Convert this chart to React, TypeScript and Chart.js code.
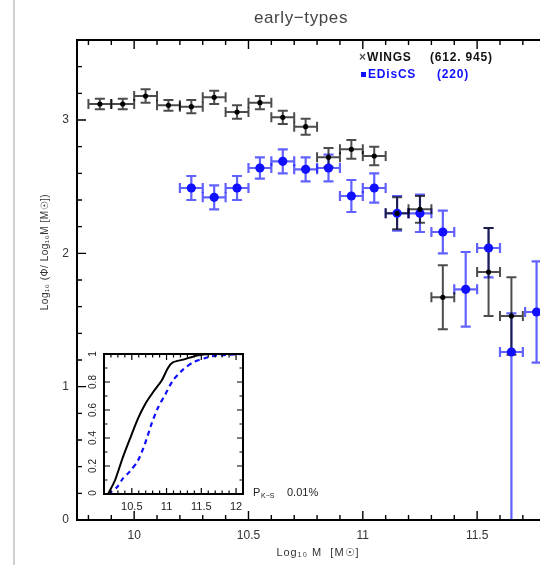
import React, { useEffect, useRef } from "react";
import { Chart, registerables } from "chart.js";

Chart.register(...registerables);

const FONT = '"Liberation Sans", Arial, Helvetica, sans-serif';

// WINGS early-type mass function (log10 phi per dex), bin centres in log10 M
const wingsMass = [9.85, 9.95, 10.05, 10.15, 10.25, 10.35, 10.45, 10.55, 10.65, 10.75, 10.85, 10.95, 11.05, 11.15, 11.25, 11.35, 11.55, 11.65];
const wingsPhi = [3.12, 3.12, 3.18, 3.11, 3.1, 3.17, 3.06, 3.13, 3.02, 2.95, 2.72, 2.78, 2.73, 2.3, 2.33, 1.67, 1.86, 1.53];
const wingsErr = [0.04, 0.04, 0.05, 0.04, 0.05, 0.05, 0.05, 0.05, 0.05, 0.06, 0.07, 0.07, 0.07, 0.12, 0.1, 0.24, 0.33, 0.29];

// EDisCS early-type mass function
const edisMass = [10.25, 10.35, 10.45, 10.55, 10.65, 10.75, 10.85, 10.95, 11.05, 11.15, 11.25, 11.35, 11.45, 11.55, 11.65, 11.76];
const edisPhi = [2.49, 2.42, 2.49, 2.64, 2.69, 2.63, 2.64, 2.43, 2.49, 2.3, 2.3, 2.16, 1.73, 2.04, 1.26, 1.56];
const edisErrLo = [0.09, 0.09, 0.09, 0.08, 0.09, 0.09, 0.1, 0.12, 0.11, 0.13, 0.14, 0.16, 0.28, 0.22, 1.5, 0.38];
const edisErrHi = [0.09, 0.09, 0.09, 0.08, 0.09, 0.09, 0.1, 0.12, 0.11, 0.13, 0.14, 0.16, 0.28, 0.15, 0.29, 0.38];

const binHalfWidth = 0.05;

const xTickValues = [10, 10.5, 11, 11.5];
const yTickValues = [0, 1, 2, 3];

// Cumulative distributions shown in the inset
const cumWingsMass = [10.16, 10.26, 10.37, 10.47, 10.59, 10.69, 10.81, 10.93, 11.02, 11.09, 11.24, 11.44, 11.63, 12.1];
const cumWingsFrac = [0, 0.1, 0.26, 0.39, 0.54, 0.64, 0.73, 0.81, 0.9, 0.94, 0.96, 0.99, 1.0, 1.0];
const cumEdisMass = [10.16, 10.29, 10.37, 10.47, 10.59, 10.69, 10.79, 10.88, 10.98, 11.09, 11.24, 11.38, 11.55, 11.73, 12.1];
const cumEdisFrac = [0, 0.05, 0.11, 0.16, 0.24, 0.36, 0.51, 0.62, 0.71, 0.81, 0.89, 0.94, 0.97, 0.99, 1.0];

const insetXTicks = [10.5, 11, 11.5, 12];
const insetYTicks = [0, 0.2, 0.4, 0.6, 0.8, 1];

const BLUE = "#1010ff";

function drawErrorBars(
  ctx: CanvasRenderingContext2D,
  chart: any,
  xs: number[],
  ys: number[],
  lo: number[],
  hi: number[],
  color: string,
  width: number
) {
  const xs_ = chart.scales.x;
  const ys_ = chart.scales.y;
  const cap = 5;
  ctx.save();
  ctx.strokeStyle = color;
  ctx.lineWidth = width;
  ctx.lineCap = "butt";
  for (let i = 0; i < xs.length; i++) {
    const px = xs_.getPixelForValue(xs[i]);
    const py = ys_.getPixelForValue(ys[i]);
    const pTop = ys_.getPixelForValue(ys[i] + hi[i]);
    const pBot = ys_.getPixelForValue(ys[i] - lo[i]);
    const pL = xs_.getPixelForValue(xs[i] - binHalfWidth);
    const pR = xs_.getPixelForValue(xs[i] + binHalfWidth);
    ctx.beginPath();
    ctx.moveTo(px, pTop);
    ctx.lineTo(px, pBot);
    ctx.moveTo(px - cap, pTop);
    ctx.lineTo(px + cap, pTop);
    ctx.moveTo(px - cap, pBot);
    ctx.lineTo(px + cap, pBot);
    ctx.moveTo(pL, py);
    ctx.lineTo(pR, py);
    ctx.moveTo(pL, py - cap);
    ctx.lineTo(pL, py + cap);
    ctx.moveTo(pR, py - cap);
    ctx.lineTo(pR, py + cap);
    ctx.stroke();
  }
  ctx.restore();
}

// Inward tick marks along one edge of a chart area
function drawTickRow(
  ctx: CanvasRenderingContext2D,
  scale: any,
  start: number,
  end: number,
  step: number,
  majorEvery: number,
  majorLen: number,
  minorLen: number,
  edge: number,
  dir: number,
  horizontal: boolean
) {
  const n = Math.round((end - start) / step);
  ctx.beginPath();
  for (let k = 0; k <= n; k++) {
    const v = start + k * step;
    const isMajor = Math.abs(v / majorEvery - Math.round(v / majorEvery)) < 1e-6;
    const len = isMajor ? majorLen : minorLen;
    const p = scale.getPixelForValue(v);
    if (horizontal) {
      ctx.moveTo(p, edge);
      ctx.lineTo(p, edge + dir * len);
    } else {
      ctx.moveTo(edge, p);
      ctx.lineTo(edge + dir * len, p);
    }
  }
  ctx.stroke();
}

const noPadding = (s: any) => {
  s.paddingLeft = 0;
  s.paddingRight = 0;
  s.paddingTop = 0;
  s.paddingBottom = 0;
};

const mainDecor = {
  id: "mainDecor",
  beforeDatasetsDraw(chart: any) {
    const { ctx, chartArea } = chart;
    ctx.save();
    ctx.beginPath();
    ctx.rect(chartArea.left, chartArea.top, chartArea.right - chartArea.left + 10, chartArea.bottom - chartArea.top);
    ctx.clip();
    drawErrorBars(ctx, chart, edisMass, edisPhi, edisErrLo, edisErrHi, "rgba(30,30,255,0.7)", 2.2);
    drawErrorBars(ctx, chart, wingsMass, wingsPhi, wingsErr, wingsErr, "rgba(0,0,0,0.7)", 2);
    ctx.restore();
  },
  afterDraw(chart: any) {
    const { ctx, chartArea } = chart;
    const { left, right, top, bottom } = chartArea;
    const x = chart.scales.x;
    const y = chart.scales.y;
    ctx.save();

    // frame: left, top and bottom axes
    ctx.strokeStyle = "#000";
    ctx.lineWidth = 2;
    ctx.beginPath();
    ctx.moveTo(right + 2, top);
    ctx.lineTo(left, top);
    ctx.lineTo(left, bottom);
    ctx.lineTo(right + 2, bottom);
    ctx.stroke();

    ctx.lineWidth = 1.4;
    drawTickRow(ctx, x, 9.8, 11.7, 0.1, 0.5, 9, 5, bottom, -1, true);
    drawTickRow(ctx, x, 9.8, 11.7, 0.1, 0.5, 9, 5, top, 1, true);
    drawTickRow(ctx, y, 0, 3.6, 0.2, 1, 9, 5, left, 1, false);

    // title
    ctx.fillStyle = "#444";
    ctx.font = `17px ${FONT}`;
    ctx.textAlign = "center";
    ctx.textBaseline = "middle";
    (ctx as any).letterSpacing = "0.6px";
    ctx.fillText("early\u2212types", 301, 18);

    // legend
    ctx.textAlign = "left";
    ctx.font = `bold 12px ${FONT}`;
    (ctx as any).letterSpacing = "0.8px";
    ctx.fillStyle = "#555";
    ctx.fillText("\u00d7", 359, 58);
    ctx.fillStyle = "#111";
    ctx.fillText("WINGS", 367, 58);
    ctx.fillText("(612. 945)", 430, 58);
    ctx.fillStyle = BLUE;
    ctx.fillRect(361, 72, 5, 5);
    ctx.fillText("EDisCS", 368, 75);
    ctx.fillText("(220)", 437, 75);

    // axis titles
    ctx.fillStyle = "#333";
    ctx.font = `11px ${FONT}`;
    (ctx as any).letterSpacing = "1px";
    ctx.textAlign = "center";
    ctx.fillText("Log\u2081\u2080 M  [M\u2609]", 318, 553);
    ctx.translate(45, 252);
    ctx.rotate(-Math.PI / 2);
    ctx.font = `10px ${FONT}`;
    (ctx as any).letterSpacing = "0.5px";
    ctx.fillText("Log\u2081\u2080 (\u03a6/ Log\u2081\u2080M [M\u2609])", 0, 0);
    ctx.restore();
  },
};

const insetDecor = {
  id: "insetDecor",
  afterDraw(chart: any) {
    const { ctx, chartArea } = chart;
    const { left, right, top, bottom } = chartArea;
    const x = chart.scales.x;
    const y = chart.scales.y;
    ctx.save();
    ctx.strokeStyle = "#000";
    ctx.lineWidth = 2;
    ctx.strokeRect(left, top, right - left, bottom - top);

    ctx.lineWidth = 1.2;
    drawTickRow(ctx, x, 10.1, 12.1, 0.1, 0.5, 6, 3.5, bottom, -1, true);
    drawTickRow(ctx, x, 10.1, 12.1, 0.1, 0.5, 6, 3.5, top, 1, true);
    drawTickRow(ctx, y, 0, 1, 0.1, 0.2, 6, 3.5, left, 1, false);
    drawTickRow(ctx, y, 0, 1, 0.1, 0.2, 6, 3.5, right, -1, false);

    // rotated fraction labels
    ctx.fillStyle = "#222";
    ctx.font = `10px ${FONT}`;
    ctx.textAlign = "center";
    ctx.textBaseline = "middle";
    for (const v of insetYTicks) {
      const py = y.getPixelForValue(v);
      ctx.save();
      ctx.translate(left - 11, v === 0 ? py - 1 : py);
      ctx.rotate(-Math.PI / 2);
      ctx.fillText(String(v), 0, 0);
      ctx.restore();
    }

    // K-S probability
    ctx.textAlign = "left";
    ctx.font = `11px ${FONT}`;
    ctx.fillText("P", right + 10, bottom - 1);
    ctx.font = `7px ${FONT}`;
    ctx.fillText("K\u2212S", right + 18, bottom + 2);
    ctx.font = `11px ${FONT}`;
    ctx.fillText("0.01%", right + 44, bottom - 1);
    ctx.restore();
  },
};

export default function App() {
  const mainRef = useRef<HTMLCanvasElement | null>(null);
  const insetRef = useRef<HTMLCanvasElement | null>(null);

  useEffect(() => {
    // the figure fills the whole page, edge to edge
    document.body.style.margin = "0";
    document.documentElement.style.overflow = "hidden";
    document.body.style.overflow = "hidden";

    if (!mainRef.current || !insetRef.current) return;

    const main = new Chart(mainRef.current, {
      type: "scatter",
      data: {
        datasets: [
          {
            label: "WINGS",
            data: wingsMass.map((m, i) => ({ x: m, y: wingsPhi[i] })),
            backgroundColor: "#000",
            borderColor: "#000",
            pointRadius: 2.6,
            pointHoverRadius: 2.6,
            borderWidth: 0,
          },
          {
            label: "EDisCS",
            data: edisMass.map((m, i) => ({ x: m, y: edisPhi[i] })),
            backgroundColor: BLUE,
            borderColor: BLUE,
            pointRadius: 4.6,
            pointHoverRadius: 4.6,
            borderWidth: 0,
            clip: false as any,
          },
        ],
      },
      options: {
        responsive: false,
        animation: false,
        events: [],
        layout: { autoPadding: false, padding: { top: 40, left: 0, right: 0, bottom: 0 } },
        plugins: {
          legend: { display: false },
          title: { display: false },
          tooltip: { enabled: false },
        },
        scales: {
          x: {
            type: "linear",
            min: 9.75,
            max: 11.775,
            grid: { display: false, drawTicks: false },
            border: { display: false },
            afterBuildTicks: (s: any) => {
              s.ticks = xTickValues.map((v) => ({ value: v }));
            },
            afterFit: (s: any) => {
              s.height = 45;
              noPadding(s);
            },
            ticks: {
              padding: 8,
              color: "#333",
              font: { family: FONT, size: 12 },
              maxRotation: 0,
              callback: (v: any) => String(v),
            },
          },
          y: {
            type: "linear",
            min: 0,
            max: 3.6,
            grid: { display: false, drawTicks: false },
            border: { display: false },
            afterBuildTicks: (s: any) => {
              s.ticks = yTickValues.map((v) => ({ value: v }));
            },
            afterFit: (s: any) => {
              s.width = 77;
              noPadding(s);
            },
            ticks: {
              padding: 8,
              color: "#333",
              font: { family: FONT, size: 12 },
              callback: (v: any) => String(v),
            },
          },
        },
      },
      plugins: [mainDecor],
    });

    const inset = new Chart(insetRef.current, {
      type: "line",
      data: {
        datasets: [
          {
            label: "WINGS",
            data: cumWingsMass.map((m, i) => ({ x: m, y: cumWingsFrac[i] })),
            borderColor: "#000",
            borderWidth: 2,
            pointRadius: 0,
            pointHoverRadius: 0,
            tension: 0.25,
          },
          {
            label: "EDisCS",
            data: cumEdisMass.map((m, i) => ({ x: m, y: cumEdisFrac[i] })),
            borderColor: BLUE,
            borderWidth: 2.2,
            borderDash: [5, 4],
            pointRadius: 0,
            pointHoverRadius: 0,
            tension: 0.25,
          },
        ],
      },
      options: {
        responsive: false,
        animation: false,
        events: [],
        layout: { autoPadding: false, padding: { top: 14, left: 0, right: 107, bottom: 0 } },
        plugins: {
          legend: { display: false },
          title: { display: false },
          tooltip: { enabled: false },
        },
        scales: {
          x: {
            type: "linear",
            min: 10.1,
            max: 12.1,
            grid: { display: false, drawTicks: false },
            border: { display: false },
            afterBuildTicks: (s: any) => {
              s.ticks = insetXTicks.map((v) => ({ value: v }));
            },
            afterFit: (s: any) => {
              s.height = 26;
              noPadding(s);
            },
            ticks: {
              padding: 6,
              color: "#222",
              font: { family: FONT, size: 11 },
              maxRotation: 0,
              callback: (v: any) => String(v),
            },
          },
          y: {
            type: "linear",
            min: 0,
            max: 1,
            grid: { display: false, drawTicks: false },
            border: { display: false },
            afterFit: (s: any) => {
              s.width = 44;
              noPadding(s);
            },
            ticks: { display: false },
          },
        },
      },
      plugins: [insetDecor],
    });

    return () => {
      main.destroy();
      inset.destroy();
    };
  }, []);

  return (
    <div style={{ position: "relative", width: 540, height: 565, background: "#fff", overflow: "hidden" }}>
      <div style={{ position: "absolute", left: 13, top: 0, width: 2, height: 565, background: "#cfcfcf" }} />
      <canvas ref={mainRef} width={540} height={565} style={{ position: "absolute", left: 0, top: 0, width: 540, height: 565 }} />
      <canvas ref={insetRef} width={290} height={180} style={{ position: "absolute", left: 60, top: 340, width: 290, height: 180 }} />
    </div>
  );
}
